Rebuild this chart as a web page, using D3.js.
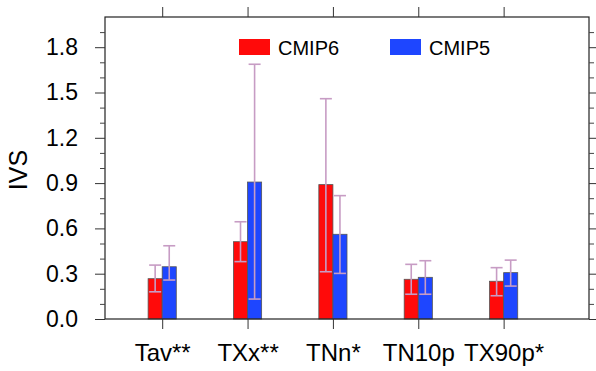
<!DOCTYPE html>
<html lang="en">
<head>
<meta charset="UTF-8">
<title>IVS</title>
<style>
  body { margin: 0; background: #fff; }
  svg { display: block; font-family: "Liberation Sans", Arial, sans-serif; }
</style>
</head>
<body>
<svg id="chart" width="596" height="371"></svg>
<script src="https://d3js.org/d3.v7.min.js"></script>
<script>
// indices and model groups
const indices = ["Tav**", "TXx**", "TNn*", "TN10p", "TX90p*"];
const models = ["CMIP6", "CMIP5"];
const modelColors = ["#ff0a0a", "#1e46ff"];

// bar heights (IVS)
const cmip6 = [0.267, 0.512, 0.890, 0.263, 0.250];
const cmip5 = [0.346, 0.907, 0.561, 0.276, 0.307];
// error bar ranges
const cmip6Low  = [0.180, 0.380, 0.313, 0.164, 0.154];
const cmip6High = [0.357, 0.644, 1.459, 0.362, 0.340];
const cmip5Low  = [0.258, 0.132, 0.302, 0.164, 0.218];
const cmip5High = [0.485, 1.687, 0.817, 0.386, 0.390];

const yTicks = [0, 0.3, 0.6, 0.9, 1.2, 1.5, 1.8];

const width = 596, height = 371;
const margin = {top: 17, right: 7, bottom: 52, left: 105};

const svg = d3.select("#chart");

// x is a linear index axis (1..5), like the original plot
const x = d3.scaleLinear([0.33, 6], [margin.left, width - margin.right]);
const y = d3.scaleLinear([0, 2.0], [height - margin.bottom, margin.top]);
const barW = 0.165; // in index units

const rows = [];
indices.forEach((name, i) => {
    rows.push({k: 0, i: i + 1, v: cmip6[i], lo: cmip6Low[i], hi: cmip6High[i]});
    rows.push({k: 1, i: i + 1, v: cmip5[i], lo: cmip5Low[i], hi: cmip5High[i]});
});

// bars
svg.append("g")
    .selectAll("rect")
    .data(rows)
    .join("rect")
    .attr("x", d => x(d.k === 0 ? d.i - barW : d.i))
    .attr("y", d => y(d.v))
    .attr("width", x(barW) - x(0))
    .attr("height", d => y(0) - y(d.v))
    .attr("fill", d => modelColors[d.k])
    .attr("stroke", "#555")
    .attr("stroke-width", 0.8);

// error bars
const cx = d => x(d.k === 0 ? d.i - barW / 2 : d.i + barW / 2);
const err = svg.append("g")
    .attr("stroke", "#c79cc4")
    .attr("stroke-width", 1.6)
    .selectAll("g")
    .data(rows)
    .join("g");
err.append("line")
    .attr("x1", cx).attr("x2", cx)
    .attr("y1", d => y(d.lo)).attr("y2", d => y(d.hi));
err.append("line")
    .attr("x1", d => cx(d) - 6).attr("x2", d => cx(d) + 6)
    .attr("y1", d => y(d.lo)).attr("y2", d => y(d.lo));
err.append("line")
    .attr("x1", d => cx(d) - 6).attr("x2", d => cx(d) + 6)
    .attr("y1", d => y(d.hi)).attr("y2", d => y(d.hi));

// frame
svg.append("rect")
    .attr("x", margin.left)
    .attr("y", margin.top)
    .attr("width", width - margin.left - margin.right)
    .attr("height", height - margin.top - margin.bottom)
    .attr("fill", "none")
    .attr("stroke", "#222")
    .attr("stroke-width", 1.2);

const minor = d3.range(0, 20).map(d => d / 10).filter(d => Math.round(d * 10) % 3 !== 0);

// left axis
const yAxisL = svg.append("g")
    .attr("transform", `translate(${margin.left},0)`)
    .call(d3.axisLeft(y).tickValues(yTicks).tickFormat(d3.format(".1f")).tickSize(10).tickPadding(17))
    .call(g => g.select(".domain").remove());
yAxisL.selectAll("text").attr("font-size", 23).attr("fill", "#000");
yAxisL.selectAll("line").attr("stroke", "#333");
svg.append("g")
    .attr("transform", `translate(${margin.left},0)`)
    .call(d3.axisLeft(y).tickValues(minor).tickFormat("").tickSize(5))
    .call(g => g.select(".domain").remove())
    .selectAll("line").attr("stroke", "#444");

// right axis
svg.append("g")
    .attr("transform", `translate(${width - margin.right},0)`)
    .call(d3.axisRight(y).tickValues(yTicks).tickFormat("").tickSize(10))
    .call(g => g.select(".domain").remove())
    .selectAll("line").attr("stroke", "#333");
svg.append("g")
    .attr("transform", `translate(${width - margin.right},0)`)
    .call(d3.axisRight(y).tickValues(minor).tickFormat("").tickSize(5))
    .call(g => g.select(".domain").remove())
    .selectAll("line").attr("stroke", "#444");

// bottom axis
const xAxisB = svg.append("g")
    .attr("transform", `translate(0,${height - margin.bottom})`)
    .call(d3.axisBottom(x).tickValues(d3.range(1, indices.length + 1))
        .tickFormat((d, i) => indices[i]).tickSize(10).tickPadding(15))
    .call(g => g.select(".domain").remove());
xAxisB.selectAll("text").attr("font-size", 24).attr("fill", "#000");
xAxisB.selectAll("line").attr("stroke", "#333");

// top axis
svg.append("g")
    .attr("transform", `translate(0,${margin.top})`)
    .call(d3.axisTop(x).tickValues(d3.range(1, indices.length + 1)).tickFormat("").tickSize(10))
    .call(g => g.select(".domain").remove())
    .selectAll("line").attr("stroke", "#333");

// y title
svg.append("text")
    .attr("transform", `translate(27,${(y(0) + y(2)) / 2 + 2}) rotate(-90)`)
    .attr("text-anchor", "middle")
    .attr("font-size", 25)
    .text("IVS");

// legend
const legendX = [239, 390];
const legend = svg.append("g")
    .selectAll("g")
    .data(models)
    .join("g")
    .attr("transform", (d, i) => `translate(${legendX[i]},39)`);
legend.append("rect")
    .attr("width", 31)
    .attr("height", 16)
    .attr("fill", (d, i) => modelColors[i]);
legend.append("text")
    .attr("x", 39)
    .attr("y", 16)
    .attr("font-size", 20)
    .text(d => d);
</script>
</body>
</html>
